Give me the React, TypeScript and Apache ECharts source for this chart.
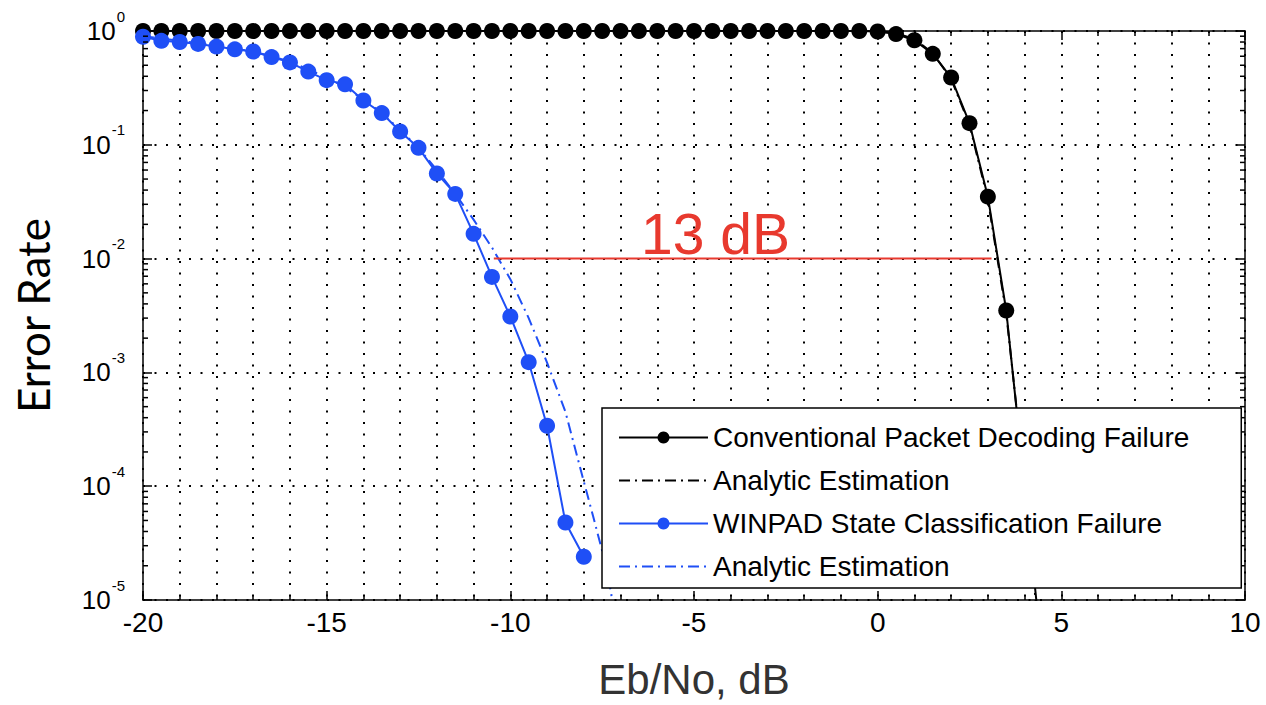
import React, { useEffect, useRef } from "react";
import * as echarts from "echarts";

// Eb/No (dB) sample points
const convX = [
  -20, -19.5, -19, -18.5, -18, -17.5, -17, -16.5, -16, -15.5, -15, -14.5, -14, -13.5, -13, -12.5,
  -12, -11.5, -11, -10.5, -10, -9.5, -9, -8.5, -8, -7.5, -7, -6.5, -6, -5.5, -5, -4.5, -4, -3.5,
  -3, -2.5, -2, -1.5, -1, -0.5, 0, 0.5, 1, 1.5, 2, 2.5, 3, 3.5, 4, 4.5,
];
const convY = [
  1, 1, 1, 1, 1, 1, 1, 1, 1, 1, 1, 1, 1, 1, 1, 1, 1, 1, 1, 1, 1, 1, 1, 1, 1, 1, 1, 1, 1, 1, 1, 1, 1,
  1, 1, 1, 1, 1, 1, 1, 0.99, 0.94, 0.83, 0.63, 0.39, 0.155, 0.035, 0.0035, 1.0e-4, 2.7e-6,
];
const convEstY = [
  1, 1, 1, 1, 1, 1, 1, 1, 1, 1, 1, 1, 1, 1, 1, 1, 1, 1, 1, 1, 1, 1, 1, 1, 1, 1, 1, 1, 1, 1, 1, 1, 1,
  1, 1, 1, 1, 1, 1, 1, 1, 0.96, 0.85, 0.64, 0.38, 0.15, 0.033, 0.0033, 1.1e-4, 2e-6,
];
const winX = [
  -20, -19.5, -19, -18.5, -18, -17.5, -17, -16.5, -16, -15.5, -15, -14.5, -14, -13.5, -13, -12.5,
  -12, -11.5, -11, -10.5, -10, -9.5, -9, -8.5, -8,
];
const winY = [
  0.89, 0.82, 0.8, 0.77, 0.73, 0.69, 0.66, 0.59, 0.53, 0.44, 0.37, 0.34, 0.245, 0.19, 0.131, 0.094,
  0.056, 0.037, 0.0165, 0.0069, 0.0031, 0.00123, 3.4e-4, 4.8e-5, 2.4e-5,
];
const winEstX = [
  -20, -19.5, -19, -18.5, -18, -17.5, -17, -16.5, -16, -15.5, -15, -14.5, -14, -13.5, -13, -12.5,
  -12, -11.5, -11, -10.5, -10, -9.5, -9, -8.5, -8, -7.75, -7.5, -7.25, -7,
];
const winEstY = [
  0.9, 0.86, 0.82, 0.78, 0.74, 0.7, 0.66, 0.6, 0.54, 0.46, 0.39, 0.32, 0.25, 0.19, 0.135, 0.094,
  0.06, 0.037, 0.022, 0.0125, 0.0066, 0.003, 0.00122, 4.5e-4, 1.1e-4, 5.5e-5, 2.7e-5, 1.15e-5, 1e-8,
];
// 13 dB gap marker at 10^-2
const gapX = [-10.45, 3.1];
const gapY = [0.01, 0.01];
const gapLabel = "13 dB";

const seriesNames = [
  "Conventional Packet Decoding Failure",
  "Analytic Estimation",
  "WINPAD State Classification Failure",
  "Analytic Estimation ",
];

const X_MIN = -20;
const X_MAX = 10;
const Y_MIN = 1e-5;
const Y_MAX = 1;

const BLACK = "#000000";
const BLUE = "#1f4ff6";
const RED = "#e8392e";
const FONT = "Liberation Sans, Arial, sans-serif";
const DASH_DOT = [11, 5, 2, 5];

const zip = (xs: number[], ys: number[]) => xs.map((x, i) => [x, ys[i]]);

// log minor tick positions 2..9 per decade
const minorTickValues: number[] = [];
for (let e = -5; e < 0; e++) {
  for (let m = 2; m <= 9; m++) minorTickValues.push(m * Math.pow(10, e));
}

export default function App() {
  const ref = useRef<HTMLDivElement>(null);

  useEffect(() => {
    document.body.style.margin = "0";
    if (!ref.current) return;
    const chart = echarts.init(ref.current, undefined, { renderer: "svg" });

    const dotted = { color: BLACK, width: 2, type: [2, 9.5] as number[] };

    const option: any = {
      animation: false,
      backgroundColor: "#ffffff",
      grid: { left: 143, right: 21, top: 31, bottom: 103, containLabel: false },
      xAxis: [
        {
          type: "value",
          min: X_MIN,
          max: X_MAX,
          interval: 5,
          name: "Eb/No, dB",
          nameLocation: "middle",
          nameGap: 58,
          nameTextStyle: { fontSize: 42, color: "#333333", fontFamily: FONT },
          axisLine: { show: true, onZero: false, lineStyle: { color: BLACK, width: 1.5 } },
          axisTick: { show: true, inside: true, length: 9, lineStyle: { color: BLACK, width: 1.5 } },
          minorTick: { show: true, splitNumber: 5, length: 5, lineStyle: { color: BLACK, width: 1.5 } },
          axisLabel: { color: BLACK, fontSize: 28, fontFamily: FONT, margin: 8 },
          splitLine: { show: true, lineStyle: dotted },
          minorSplitLine: { show: true, lineStyle: dotted },
        },
        {
          type: "value",
          position: "top",
          min: X_MIN,
          max: X_MAX,
          interval: 5,
          axisLine: { show: true, onZero: false, lineStyle: { color: BLACK, width: 1.5 } },
          axisTick: { show: true, inside: true, length: 9, lineStyle: { color: BLACK, width: 1.5 } },
          minorTick: { show: true, splitNumber: 5, length: 5, lineStyle: { color: BLACK, width: 1.5 } },
          axisLabel: { show: false },
          splitLine: { show: false },
        },
      ],
      yAxis: [
        {
          type: "log",
          logBase: 10,
          min: Y_MIN,
          max: Y_MAX,
          name: "Error Rate",
          nameLocation: "middle",
          nameGap: 88,
          nameTextStyle: { fontSize: 44, color: BLACK, fontFamily: "Lato, Carlito, sans-serif" },
          axisLine: { show: true, onZero: false, lineStyle: { color: BLACK, width: 1.5 } },
          axisTick: { show: true, inside: true, length: 9, lineStyle: { color: BLACK, width: 1.5 } },
          axisLabel: {
            margin: 18,
            formatter: (v: number) => `{b|10}{s|${Math.round(Math.log10(v))}}`,
            rich: {
              b: { fontSize: 26, color: BLACK, fontFamily: FONT },
              s: { fontSize: 15, color: BLACK, fontFamily: FONT, padding: [0, 0, 30, 1] },
            },
          },
          splitLine: { show: true, lineStyle: dotted },
        },
        {
          type: "log",
          logBase: 10,
          min: Y_MIN,
          max: Y_MAX,
          position: "right",
          axisLine: { show: true, onZero: false, lineStyle: { color: BLACK, width: 1.5 } },
          axisTick: { show: true, inside: true, length: 9, lineStyle: { color: BLACK, width: 1.5 } },
          axisLabel: { show: false },
          splitLine: { show: false },
        },
      ],
      legend: {
        orient: "vertical",
        left: 602,
        top: 408,
        z: 20,
        backgroundColor: "#ffffff",
        borderColor: BLACK,
        borderWidth: 1.5,
        borderRadius: 0,
        padding: [8, 52, 0, 16],
        itemGap: 0,
        itemWidth: 89,
        itemHeight: 15,
        selectedMode: false,
        formatter: (n: string) => n.trim(),
        textStyle: { fontSize: 28, lineHeight: 43, color: BLACK, fontFamily: FONT },
        data: [
          { name: seriesNames[0] },
          { name: seriesNames[1], itemStyle: { opacity: 0 } },
          { name: seriesNames[2] },
          { name: seriesNames[3], itemStyle: { opacity: 0 } },
        ],
      },
      graphic: [
        {
          type: "text",
          left: 641,
          top: 205,
          z: 10,
          style: { text: gapLabel, fontSize: 57, fill: RED, fontFamily: FONT },
        },
      ],
      series: [
        {
          name: seriesNames[1],
          type: "line",
          data: zip(convX, convEstY),
          symbol: "none",
          showSymbol: false,
          itemStyle: { color: BLACK },
          lineStyle: { color: BLACK, width: 2, type: DASH_DOT },
          z: 3,
        },
        {
          name: seriesNames[0],
          type: "line",
          data: zip(convX, convY),
          symbol: "circle",
          symbolSize: 16,
          itemStyle: { color: BLACK },
          lineStyle: { color: BLACK, width: 2 },
          z: 4,
        },
        {
          name: seriesNames[3],
          type: "line",
          data: zip(winEstX, winEstY),
          symbol: "none",
          showSymbol: false,
          itemStyle: { color: BLUE },
          lineStyle: { color: BLUE, width: 2, type: DASH_DOT },
          z: 5,
        },
        {
          name: seriesNames[2],
          type: "line",
          data: zip(winX, winY),
          symbol: "circle",
          symbolSize: 16,
          itemStyle: { color: BLUE },
          lineStyle: { color: BLUE, width: 2 },
          z: 6,
        },
        {
          name: "gap",
          type: "line",
          data: zip(gapX, gapY),
          symbol: "none",
          silent: true,
          lineStyle: { color: RED, width: 2 },
          itemStyle: { color: RED },
          z: 7,
        },
        {
          name: "minorTicks",
          type: "custom",
          silent: true,
          data: minorTickValues.map((v) => [X_MIN, v]),
          encode: { x: 0, y: 1 },
          z: 8,
          renderItem: (_p: any, api: any) => {
            const v = api.value(1);
            const l = api.coord([X_MIN, v]);
            const r = api.coord([X_MAX, v]);
            const st = { stroke: BLACK, lineWidth: 1.5 };
            return {
              type: "group",
              children: [
                { type: "line", shape: { x1: l[0], y1: l[1], x2: l[0] + 5, y2: l[1] }, style: st },
                { type: "line", shape: { x1: r[0] - 5, y1: r[1], x2: r[0], y2: r[1] }, style: st },
              ],
            };
          },
        },
      ],
    };

    chart.setOption(option);
    return () => chart.dispose();
  }, []);

  return <div ref={ref} style={{ width: 1266, height: 705 }} />;
}
